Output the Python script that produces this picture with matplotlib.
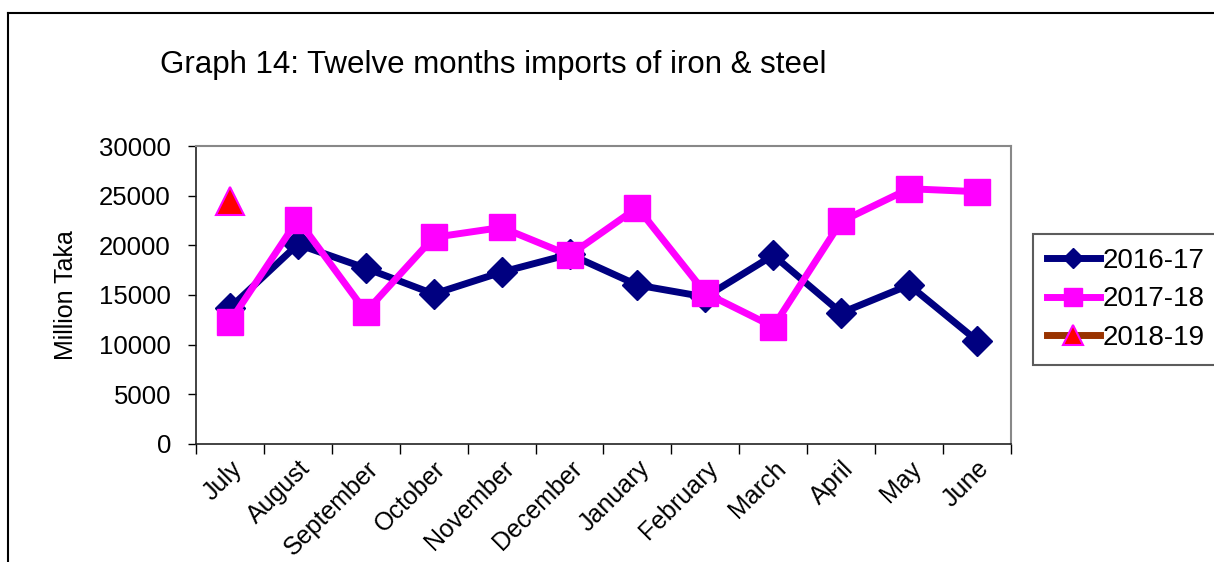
import numpy as np
import matplotlib.pyplot as plt
from matplotlib.lines import Line2D

plt.rcParams['font.family'] = ['Liberation Sans', 'DejaVu Sans']

months = ['July', 'August', 'September', 'October', 'November', 'December',
          'January', 'February', 'March', 'April', 'May', 'June']
fy_2016_17 = [13700, 20100, 17700, 15100, 17300, 19100,
              16000, 14800, 19000, 13200, 16000, 10400]
fy_2017_18 = [12300, 22600, 13300, 20800, 21800, 19000,
              23800, 15200, 11800, 22400, 25700, 25400]
fy_2018_19 = [24500]

fig = plt.figure(figsize=(12.14, 5.62), dpi=100)
ax = fig.add_axes([0.1614, 0.2100, 0.6714, 0.5302])

x = np.arange(len(months))
ax.plot(x, fy_2016_17, color='#000080', lw=5, marker='D', ms=15,
        label='2016-17', zorder=3)
ax.plot(x, fy_2017_18, color='#FF00FF', lw=5, marker='s', ms=19,
        label='2017-18', zorder=4)
ax.plot(x[:len(fy_2018_19)], fy_2018_19, color='#993300', lw=5, marker='^',
        ms=20, mfc='red', mec='#FF00FF', mew=1.5, label='2018-19', zorder=5)

ax.set_xlim(-0.5, 11.5)
ax.set_ylim(0, 30000)
ax.set_yticks(range(0, 30001, 5000))
ax.set_xticks(x)
ax.set_xticklabels(months, rotation=45, ha='right', rotation_mode='anchor')
ax.set_xticks(np.arange(-0.5, 12, 1), minor=True)
ax.tick_params(axis='x', which='major', length=0, labelsize=18, pad=9)
ax.tick_params(axis='x', which='minor', length=7, width=1, direction='out')
ax.tick_params(axis='y', length=6, width=1, labelsize=18.5, pad=12)
ax.set_ylabel('Million Taka', fontsize=18, labelpad=15)

for side in ['left', 'bottom']:
    ax.spines[side].set_color('#222222')
    ax.spines[side].set_linewidth(1.2)
for side in ['top', 'right']:
    ax.spines[side].set_color('#888888')
    ax.spines[side].set_linewidth(1.5)

fig.text(160 / 1214, 1 - 65 / 562, 'Graph 14: Twelve months imports of iron & steel',
         fontsize=22.5, ha='left', va='center')

leg = fig.legend(loc='upper left', bbox_to_anchor=(1033 / 1214, 1 - 234 / 562),
                 fontsize=20, handlelength=1.9, handletextpad=0.1,
                 labelspacing=0.45, borderpad=0.5, borderaxespad=0,
                 markerscale=0.7, fancybox=False,
                 frameon=True, edgecolor='#333333')
leg.get_frame().set_linewidth(1.5)

# outer chart frame (runs off right and bottom edges)
fig.add_artist(Line2D([8 / 1214, 8 / 1214], [0, 1 - 13 / 562],
                      transform=fig.transFigure, color='black', lw=1.5))
fig.add_artist(Line2D([8 / 1214, 1], [1 - 13 / 562, 1 - 13 / 562],
                      transform=fig.transFigure, color='black', lw=1.5))

fig.savefig('out.png', dpi=100)
